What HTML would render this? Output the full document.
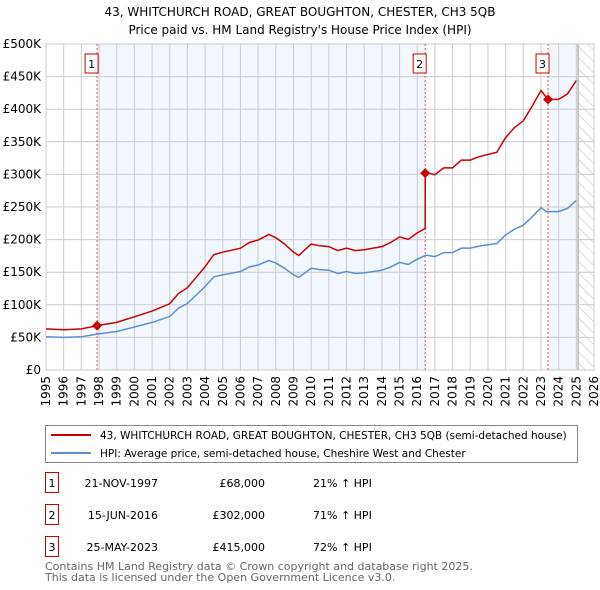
<!DOCTYPE html>
<html><head><meta charset="utf-8"><style>
body{margin:0;background:#fff;font-family:"DejaVu Sans","Liberation Sans",sans-serif;}
svg{display:block}
</style></head><body>
<svg id="c" width="600" height="590" xmlns="http://www.w3.org/2000/svg" font-family="DejaVu Sans, Liberation Sans, sans-serif">
<text x="300" y="16" text-anchor="middle" font-size="12">43, WHITCHURCH ROAD, GREAT BOUGHTON, CHESTER, CH3 5QB</text>
<text x="300" y="34" text-anchor="middle" font-size="12">Price paid vs. HM Land Registry's House Price Index (HPI)</text>
<g id="plot"></g>
<g>
<rect x="45.5" y="425.5" width="532" height="37" fill="#fff" stroke="#888"/>
<line x1="51" y1="435" x2="91" y2="435" stroke="#cc0000" stroke-width="2"/>
<text x="100" y="439" font-size="10.5">43, WHITCHURCH ROAD, GREAT BOUGHTON, CHESTER, CH3 5QB (semi-detached house)</text>
<line x1="51" y1="453" x2="91" y2="453" stroke="#5b8fd4" stroke-width="2"/>
<text x="100" y="457" font-size="10.5">HPI: Average price, semi-detached house, Cheshire West and Chester</text>
</g>
<g id="tbl" font-size="11"></g>
<text x="45" y="570" font-size="11" fill="#666">Contains HM Land Registry data © Crown copyright and database right 2025.</text>
<text x="45" y="581" font-size="11" fill="#666">This data is licensed under the Open Government Licence v3.0.</text>
</svg>
<script>
const hpiYears=[1995,1996,1997,1997.9,1999,2000,2001,2002,2002.5,2003,2004,2004.5,2005,2006,2006.5,2007,2007.6,2008,2008.5,2009,2009.3,2010,2010.5,2011,2011.5,2012,2012.5,2013,2014,2014.5,2015,2015.5,2016,2016.5,2017,2017.5,2018,2018.5,2019,2019.5,2020,2020.5,2021,2021.5,2022,2022.5,2023,2023.3,2023.5,2024,2024.5,2025];
const hpiValues=[51,50,51,55,59,66,73,82,95,102,128,143,146,151,158,161,168,164,156,146,142,156,154,153,148,151,148,149,153,158,165,162,170,176,174,180,180,187,187,190,192,194,207,216,222,235,249,243,243,243,248,260];
const saleLabels=["1","2","3"];
const saleYears=[1997.89,2016.45,2023.4];
const salePrices=[68,302,415];
const saleDates=["21-NOV-1997","15-JUN-2016","25-MAY-2023"];
const salePriceText=["£68,000","£302,000","£415,000"];
const salePct=["21% ↑ HPI","71% ↑ HPI","72% ↑ HPI"];
const yTicks=[0,50,100,150,200,250,300,350,400,450,500];
const yTickLabels=["£0","£50K","£100K","£150K","£200K","£250K","£300K","£350K","£400K","£450K","£500K"];
const xTicks=[1995,1996,1997,1998,1999,2000,2001,2002,2003,2004,2005,2006,2007,2008,2009,2010,2011,2012,2013,2014,2015,2016,2017,2018,2019,2020,2021,2022,2023,2024,2025,2026];

const L=46,R=594,T=44,B=370,X0=1995,X1=2026,YMAX=500;
const sx=y=>L+(y-X0)/(X1-X0)*(R-L);
const sy=v=>B-v/YMAX*(B-T);
const NS="http://www.w3.org/2000/svg";
const plot=document.getElementById('plot');
function mk(tag,attrs,parent){const e=document.createElementNS(NS,tag);for(const k in attrs)e.setAttribute(k,attrs[k]);(parent||plot).appendChild(e);return e;}
function hpiAt(t){for(let i=0;i<hpiYears.length-1;i++){if(t<=hpiYears[i+1]){const f=(t-hpiYears[i])/(hpiYears[i+1]-hpiYears[i]);return hpiValues[i]+f*(hpiValues[i+1]-hpiValues[i]);}}return hpiValues[hpiValues.length-1];}

let e;
e=mk('rect',{x:L,y:T,width:R-L,height:B-T,fill:'#fff'});


e=mk('rect',{x:sx(saleYears[0]),y:T,width:sx(saleYears[1])-sx(saleYears[0]),height:B-T,fill:'#eef3fc',opacity:0.75});


const hatchStart=2025.1;
e=mk('rect',{x:sx(saleYears[2]),y:T,width:sx(hatchStart)-sx(saleYears[2]),height:B-T,fill:'#eef3fc',opacity:0.75});


const defs=mk('defs',{});
const pat=mk('pattern',{id:'hatch',width:8,height:8,patternUnits:'userSpaceOnUse',patternTransform:'rotate(-45)'},defs);
mk('line',{x1:0,y1:0,x2:0,y2:8,stroke:'#bbb','stroke-width':1},pat);
e=mk('rect',{x:sx(hatchStart),y:T,width:R-sx(hatchStart),height:B-T,fill:'url(#hatch)'});


mk('line',{x1:sx(hatchStart),y1:T,x2:sx(hatchStart),y2:B,stroke:'#999','stroke-width':1});
yTicks.forEach((v,i)=>{
 e=mk('line',{x1:L,y1:sy(v),x2:R,y2:sy(v),stroke:'#ccc','stroke-width':1});
 
 
 e=mk('text',{x:L-5,y:sy(v)+4,'text-anchor':'end','font-size':12});
 e.textContent=yTickLabels[i];
 
 
});
xTicks.forEach(y=>{
 e=mk('line',{x1:sx(y),y1:T,x2:sx(y),y2:B,stroke:'#ccc','stroke-width':1});
 
 
 e=mk('text',{x:0,y:0,'text-anchor':'end','font-size':12,transform:`translate(${sx(y)+4},${B+6}) rotate(-90)`});
 e.textContent=y;
 
 
});
mk('rect',{x:L,y:T,width:R-L,height:B-T,fill:'none',stroke:'#ccc'});
saleYears.forEach((y,i)=>{
 e=mk('line',{x1:sx(y),y1:T,x2:sx(y),y2:B,stroke:'#e05555','stroke-width':1,'stroke-dasharray':'2,2'});
 
 
 e=mk('rect',{x:sx(y)-12,y:T+10,width:13,height:19,fill:'#fff',stroke:'#cc0000'});
 
 
 e=mk('text',{x:sx(y)-5.5,y:T+24,'text-anchor':'middle','font-size':11});
 e.textContent=saleLabels[i];
 
 
});
let d=hpiYears.map((y,i)=>(i?'L':'M')+sx(y).toFixed(1)+','+sy(hpiValues[i]).toFixed(1)).join('');
e=mk('path',{d:d,fill:'none',stroke:'#5b8fd4','stroke-width':1.5});


function ratioSeg(t){let k=0;for(let i=0;i<saleYears.length;i++){if(t>=saleYears[i])k=i;}return salePrices[k]/hpiAt(saleYears[k]);}
let pts=[];
const ts=new Set(hpiYears.concat(saleYears));
[...ts].sort((a,b)=>a-b).forEach(t=>{
 const idx=saleYears.indexOf(t);
 if(idx>0){pts.push([t,hpiAt(t)*salePrices[idx-1]/hpiAt(saleYears[idx-1])]);}
 pts.push([t,hpiAt(t)*ratioSeg(t)]);
});
d=pts.map((p,i)=>(i?'L':'M')+sx(p[0]).toFixed(1)+','+sy(p[1]).toFixed(1)).join('');
e=mk('path',{d:d,fill:'none',stroke:'#cc0000','stroke-width':1.5});


saleYears.forEach((y,i)=>{
 const cx=sx(y),cy=sy(salePrices[i]);
 e=mk('path',{d:`M${cx},${cy-5}L${cx+5},${cy}L${cx},${cy+5}L${cx-5},${cy}Z`,fill:'#cc0000'});
 
 
});
const tbl=document.getElementById('tbl');
const rowY=[483,515,547];
saleLabels.forEach((s,i)=>{
 const y=rowY[i];
 e=mk('rect',{x:45.5,y:y-10.5,width:13,height:20,fill:'#fff',stroke:'#cc0000'},tbl);
 
 
 e=mk('text',{x:52,y:y+4,'text-anchor':'middle'},tbl);e.textContent=s;
 
 
 e=mk('text',{x:158,y:y+4,'text-anchor':'end'},tbl);e.textContent=saleDates[i];
 
 
 e=mk('text',{x:265,y:y+4,'text-anchor':'end'},tbl);e.textContent=salePriceText[i];
 
 
 e=mk('text',{x:313,y:y+4},tbl);e.textContent=salePct[i];
 
 
});
</script>
</body></html>
